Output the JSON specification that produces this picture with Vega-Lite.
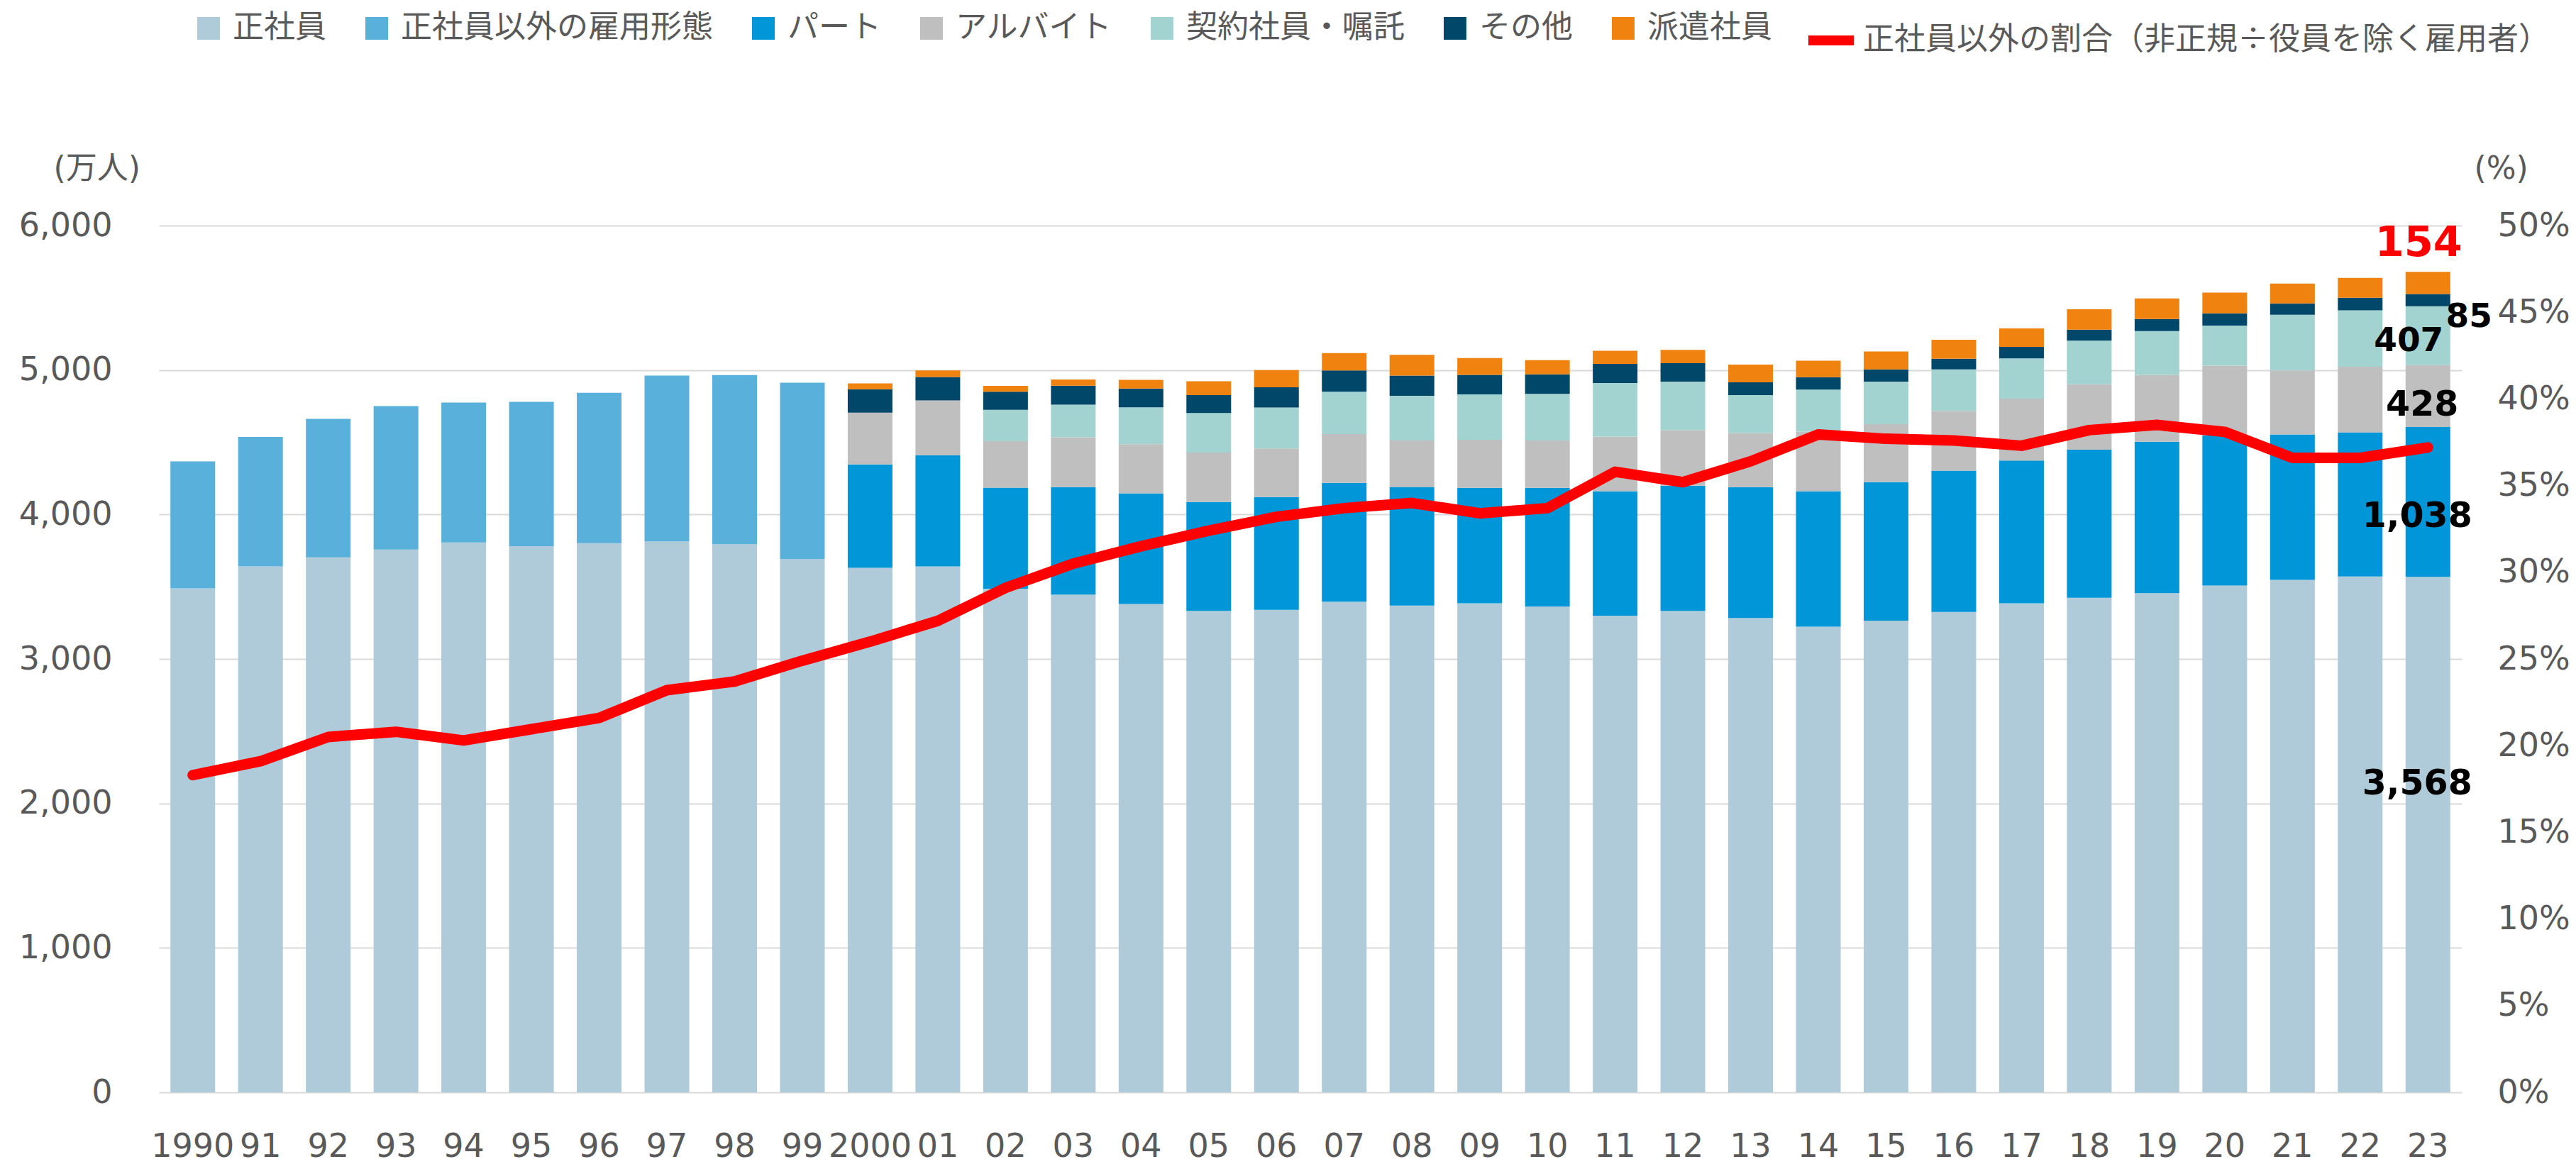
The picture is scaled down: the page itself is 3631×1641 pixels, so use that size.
{
  "$schema": "https://vega.github.io/schema/vega-lite/v6.json",
  "autosize": {"type": "none"},
  "padding": {"left": 224, "top": 318, "right": 161, "bottom": 101},
  "width": 3246,
  "height": 1222,
  "background": "white",
  "config": {
    "font": "DejaVu Sans, Noto Sans CJK JP",
    "view": {"stroke": null},
    "axis": {"labelFont": "DejaVu Sans, Noto Sans CJK JP", "titleFont": "DejaVu Sans, Noto Sans CJK JP", "labelColor": "#595959", "titleColor": "#595959", "labelFontSize": 46, "titleFontSize": 44, "titleFontWeight": "normal"},
    "legend": {"labelFont": "Noto Sans CJK JP", "labelColor": "#595959", "labelFontSize": 44, "labelLimit": 3000}
  },
  "datasets": {
    "d": [
      {"yl":"1990","cat":"正社員","k":1,"v":3488},{"yl":"1990","cat":"正社員以外の雇用形態","k":2,"v":879},
      {"yl":"91","cat":"正社員","k":1,"v":3641},{"yl":"91","cat":"正社員以外の雇用形態","k":2,"v":896},
      {"yl":"92","cat":"正社員","k":1,"v":3703},{"yl":"92","cat":"正社員以外の雇用形態","k":2,"v":959},
      {"yl":"93","cat":"正社員","k":1,"v":3757},{"yl":"93","cat":"正社員以外の雇用形態","k":2,"v":993},
      {"yl":"94","cat":"正社員","k":1,"v":3806},{"yl":"94","cat":"正社員以外の雇用形態","k":2,"v":969},
      {"yl":"95","cat":"正社員","k":1,"v":3781},{"yl":"95","cat":"正社員以外の雇用形態","k":2,"v":999},
      {"yl":"96","cat":"正社員","k":1,"v":3801},{"yl":"96","cat":"正社員以外の雇用形態","k":2,"v":1041},
      {"yl":"97","cat":"正社員","k":1,"v":3814},{"yl":"97","cat":"正社員以外の雇用形態","k":2,"v":1148},
      {"yl":"98","cat":"正社員","k":1,"v":3794},{"yl":"98","cat":"正社員以外の雇用形態","k":2,"v":1171},
      {"yl":"99","cat":"正社員","k":1,"v":3691},{"yl":"99","cat":"正社員以外の雇用形態","k":2,"v":1221},
      {"yl":"2000","cat":"正社員","k":1,"v":3631},{"yl":"2000","cat":"パート","k":3,"v":716},{"yl":"2000","cat":"アルバイト","k":4,"v":358},{"yl":"2000","cat":"その他","k":6,"v":162},{"yl":"2000","cat":"派遣社員","k":7,"v":40},
      {"yl":"01","cat":"正社員","k":1,"v":3641},{"yl":"01","cat":"パート","k":3,"v":768},{"yl":"01","cat":"アルバイト","k":4,"v":381},{"yl":"01","cat":"その他","k":6,"v":162},{"yl":"01","cat":"派遣社員","k":7,"v":45},
      {"yl":"02","cat":"正社員","k":1,"v":3486},{"yl":"02","cat":"パート","k":3,"v":700},{"yl":"02","cat":"アルバイト","k":4,"v":321},{"yl":"02","cat":"契約社員・嘱託","k":5,"v":218},{"yl":"02","cat":"その他","k":6,"v":125},{"yl":"02","cat":"派遣社員","k":7,"v":40},
      {"yl":"03","cat":"正社員","k":1,"v":3446},{"yl":"03","cat":"パート","k":3,"v":743},{"yl":"03","cat":"アルバイト","k":4,"v":345},{"yl":"03","cat":"契約社員・嘱託","k":5,"v":226},{"yl":"03","cat":"その他","k":6,"v":132},{"yl":"03","cat":"派遣社員","k":7,"v":43},
      {"yl":"04","cat":"正社員","k":1,"v":3380},{"yl":"04","cat":"パート","k":3,"v":766},{"yl":"04","cat":"アルバイト","k":4,"v":341},{"yl":"04","cat":"契約社員・嘱託","k":5,"v":255},{"yl":"04","cat":"その他","k":6,"v":130},{"yl":"04","cat":"派遣社員","k":7,"v":60},
      {"yl":"05","cat":"正社員","k":1,"v":3333},{"yl":"05","cat":"パート","k":3,"v":753},{"yl":"05","cat":"アルバイト","k":4,"v":343},{"yl":"05","cat":"契約社員・嘱託","k":5,"v":273},{"yl":"05","cat":"その他","k":6,"v":125},{"yl":"05","cat":"派遣社員","k":7,"v":95},
      {"yl":"06","cat":"正社員","k":1,"v":3340},{"yl":"06","cat":"パート","k":3,"v":781},{"yl":"06","cat":"アルバイト","k":4,"v":336},{"yl":"06","cat":"契約社員・嘱託","k":5,"v":283},{"yl":"06","cat":"その他","k":6,"v":140},{"yl":"06","cat":"派遣社員","k":7,"v":120},
      {"yl":"07","cat":"正社員","k":1,"v":3396},{"yl":"07","cat":"パート","k":3,"v":823},{"yl":"07","cat":"アルバイト","k":4,"v":338},{"yl":"07","cat":"契約社員・嘱託","k":5,"v":293},{"yl":"07","cat":"その他","k":6,"v":147},{"yl":"07","cat":"派遣社員","k":7,"v":121},
      {"yl":"08","cat":"正社員","k":1,"v":3370},{"yl":"08","cat":"パート","k":3,"v":821},{"yl":"08","cat":"アルバイト","k":4,"v":321},{"yl":"08","cat":"契約社員・嘱託","k":5,"v":310},{"yl":"08","cat":"その他","k":6,"v":140},{"yl":"08","cat":"派遣社員","k":7,"v":143},
      {"yl":"09","cat":"正社員","k":1,"v":3385},{"yl":"09","cat":"パート","k":3,"v":799},{"yl":"09","cat":"アルバイト","k":4,"v":333},{"yl":"09","cat":"契約社員・嘱託","k":5,"v":315},{"yl":"09","cat":"その他","k":6,"v":135},{"yl":"09","cat":"派遣社員","k":7,"v":116},
      {"yl":"10","cat":"正社員","k":1,"v":3363},{"yl":"10","cat":"パート","k":3,"v":821},{"yl":"10","cat":"アルバイト","k":4,"v":328},{"yl":"10","cat":"契約社員・嘱託","k":5,"v":323},{"yl":"10","cat":"その他","k":6,"v":135},{"yl":"10","cat":"派遣社員","k":7,"v":98},
      {"yl":"11","cat":"正社員","k":1,"v":3300},{"yl":"11","cat":"パート","k":3,"v":861},{"yl":"11","cat":"アルバイト","k":4,"v":378},{"yl":"11","cat":"契約社員・嘱託","k":5,"v":371},{"yl":"11","cat":"その他","k":6,"v":133},{"yl":"11","cat":"派遣社員","k":7,"v":90},
      {"yl":"12","cat":"正社員","k":1,"v":3333},{"yl":"12","cat":"パート","k":3,"v":866},{"yl":"12","cat":"アルバイト","k":4,"v":385},{"yl":"12","cat":"契約社員・嘱託","k":5,"v":336},{"yl":"12","cat":"その他","k":6,"v":128},{"yl":"12","cat":"派遣社員","k":7,"v":92},
      {"yl":"13","cat":"正社員","k":1,"v":3283},{"yl":"13","cat":"パート","k":3,"v":906},{"yl":"13","cat":"アルバイト","k":4,"v":375},{"yl":"13","cat":"契約社員・嘱託","k":5,"v":263},{"yl":"13","cat":"その他","k":6,"v":88},{"yl":"13","cat":"派遣社員","k":7,"v":123},
      {"yl":"14","cat":"正社員","k":1,"v":3223},{"yl":"14","cat":"パート","k":3,"v":938},{"yl":"14","cat":"アルバイト","k":4,"v":413},{"yl":"14","cat":"契約社員・嘱託","k":5,"v":291},{"yl":"14","cat":"その他","k":6,"v":85},{"yl":"14","cat":"派遣社員","k":7,"v":115},
      {"yl":"15","cat":"正社員","k":1,"v":3265},{"yl":"15","cat":"パート","k":3,"v":959},{"yl":"15","cat":"アルバイト","k":4,"v":401},{"yl":"15","cat":"契約社員・嘱託","k":5,"v":295},{"yl":"15","cat":"その他","k":6,"v":85},{"yl":"15","cat":"派遣社員","k":7,"v":123},
      {"yl":"16","cat":"正社員","k":1,"v":3325},{"yl":"16","cat":"パート","k":3,"v":979},{"yl":"16","cat":"アルバイト","k":4,"v":413},{"yl":"16","cat":"契約社員・嘱託","k":5,"v":288},{"yl":"16","cat":"その他","k":6,"v":73},{"yl":"16","cat":"派遣社員","k":7,"v":132},
      {"yl":"17","cat":"正社員","k":1,"v":3385},{"yl":"17","cat":"パート","k":3,"v":989},{"yl":"17","cat":"アルバイト","k":4,"v":428},{"yl":"17","cat":"契約社員・嘱託","k":5,"v":278},{"yl":"17","cat":"その他","k":6,"v":80},{"yl":"17","cat":"派遣社員","k":7,"v":128},
      {"yl":"18","cat":"正社員","k":1,"v":3423},{"yl":"18","cat":"パート","k":3,"v":1026},{"yl":"18","cat":"アルバイト","k":4,"v":453},{"yl":"18","cat":"契約社員・嘱託","k":5,"v":301},{"yl":"18","cat":"その他","k":6,"v":77},{"yl":"18","cat":"派遣社員","k":7,"v":141},
      {"yl":"19","cat":"正社員","k":1,"v":3456},{"yl":"19","cat":"パート","k":3,"v":1048},{"yl":"19","cat":"アルバイト","k":4,"v":463},{"yl":"19","cat":"契約社員・嘱託","k":5,"v":303},{"yl":"19","cat":"その他","k":6,"v":83},{"yl":"19","cat":"派遣社員","k":7,"v":143},
      {"yl":"20","cat":"正社員","k":1,"v":3508},{"yl":"20","cat":"パート","k":3,"v":1040},{"yl":"20","cat":"アルバイト","k":4,"v":482},{"yl":"20","cat":"契約社員・嘱託","k":5,"v":278},{"yl":"20","cat":"その他","k":6,"v":85},{"yl":"20","cat":"派遣社員","k":7,"v":143},
      {"yl":"21","cat":"正社員","k":1,"v":3548},{"yl":"21","cat":"パート","k":3,"v":1006},{"yl":"21","cat":"アルバイト","k":4,"v":443},{"yl":"21","cat":"契約社員・嘱託","k":5,"v":386},{"yl":"21","cat":"その他","k":6,"v":78},{"yl":"21","cat":"派遣社員","k":7,"v":137},
      {"yl":"22","cat":"正社員","k":1,"v":3571},{"yl":"22","cat":"パート","k":3,"v":998},{"yl":"22","cat":"アルバイト","k":4,"v":454},{"yl":"22","cat":"契約社員・嘱託","k":5,"v":390},{"yl":"22","cat":"その他","k":6,"v":87},{"yl":"22","cat":"派遣社員","k":7,"v":138},
      {"yl":"23","cat":"正社員","k":1,"v":3568},{"yl":"23","cat":"パート","k":3,"v":1038},{"yl":"23","cat":"アルバイト","k":4,"v":428},{"yl":"23","cat":"契約社員・嘱託","k":5,"v":407},{"yl":"23","cat":"その他","k":6,"v":85},{"yl":"23","cat":"派遣社員","k":7,"v":154}
    ],
    "r": [
      {"yl":"1990","p":18.3},{"yl":"91","p":19.1},{"yl":"92","p":20.5},{"yl":"93","p":20.8},{"yl":"94","p":20.3},
      {"yl":"95","p":20.95},{"yl":"96","p":21.6},{"yl":"97","p":23.2},{"yl":"98","p":23.7},{"yl":"99","p":24.9},
      {"yl":"2000","p":26.0},{"yl":"01","p":27.2},{"yl":"02","p":29.1},{"yl":"03","p":30.5},{"yl":"04","p":31.5},
      {"yl":"05","p":32.4},{"yl":"06","p":33.2},{"yl":"07","p":33.7},{"yl":"08","p":34.0},{"yl":"09","p":33.4},
      {"yl":"10","p":33.7},{"yl":"11","p":35.8},{"yl":"12","p":35.2},{"yl":"13","p":36.4},{"yl":"14","p":37.95},
      {"yl":"15","p":37.7},{"yl":"16","p":37.6},{"yl":"17","p":37.3},{"yl":"18","p":38.2},{"yl":"19","p":38.5},
      {"yl":"20","p":38.1},{"yl":"21","p":36.6},{"yl":"22","p":36.6},{"yl":"23","p":37.2}
    ]
  },
  "encoding": {
    "x": {
      "field": "yl", "type": "ordinal", "sort": null,
      "scale": {
        "domain": ["1990","91","92","93","94","95","96","97","98","99","2000","01","02","03","04","05","06","07","08","09","10","11","12","13","14","15","16","17","18","19","20","21","22","23"],
        "paddingInner": 0.34, "paddingOuter": 0.17
      },
      "axis": {"title": null, "labelAngle": 0, "domain": false, "ticks": false, "tickSize": 0, "labelPadding": 54, "labelFontSize": 46}
    }
  },
  "layer": [
    {
      "data": {"name": "d"},
      "mark": {"type": "bar"},
      "encoding": {
        "y": {
          "field": "v", "type": "quantitative", "stack": "zero",
          "scale": {"domain": [0, 6000], "nice": false},
          "axis": {
            "orient": "left", "values": [0,1000,2000,3000,4000,5000,6000], "labelExpr": "format(datum.value, ',')",
            "grid": true, "gridColor": "#D9D9D9", "gridWidth": 2, "domain": false, "ticks": false, "tickSize": 0,
            "labelPadding": 66, "title": "(万人)", "titleAngle": 0, "titleAlign": "left", "titleBaseline": "middle",
            "titleX": -149, "titleY": -80
          }
        },
        "fill": {
          "field": "cat", "type": "nominal",
          "scale": {
            "domain": ["正社員","正社員以外の雇用形態","パート","アルバイト","契約社員・嘱託","その他","派遣社員"],
            "range": ["#AFCBD9","#59B0DA","#0096D8","#BFBFBF","#A3D3D0","#00476A","#F0820F"]
          },
          "legend": {
            "orient": "none", "legendX": 48, "legendY": -300, "direction": "horizontal", "title": null,
            "symbolType": "square", "symbolSize": 1024, "symbolStrokeWidth": 0, "labelOffset": 12, "columnPadding": 49
          }
        },
        "order": {"field": "k", "type": "quantitative"}
      }
    },
    {
      "data": {"name": "r"},
      "mark": {"type": "line", "strokeWidth": 15, "strokeCap": "round", "strokeJoin": "round"},
      "encoding": {
        "y": {
          "field": "p", "type": "quantitative",
          "scale": {"domain": [0, 50], "nice": false},
          "axis": {
            "orient": "right", "values": [0,5,10,15,20,25,30,35,40,45,50], "labelExpr": "datum.value + '%'",
            "grid": false, "domain": false, "ticks": false, "tickSize": 0, "labelPadding": 50,
            "title": "(%)", "titleAngle": 0, "titleAlign": "left", "titleBaseline": "middle", "titleX": 17, "titleY": -80
          }
        },
        "stroke": {
          "datum": "正社員以外の割合（非正規÷役員を除く雇用者）",
          "scale": {"range": ["#FF0000"]},
          "legend": {
            "orient": "none", "legendX": 2318, "legendY": -300, "direction": "horizontal", "title": null,
            "symbolType": "stroke", "symbolSize": 4096, "symbolStrokeWidth": 14, "labelOffset": 6
          }
        }
      }
    },
    {
      "data": {"name": "d"},
      "transform": [
        {"filter": "datum.yl == '23'"},
        {"window": [{"op": "sum", "field": "v", "as": "cum"}], "sort": [{"field": "k", "order": "ascending"}]},
        {"filter": "datum.k == 1"}
      ],
      "mark": {"type": "text", "fontWeight": "bold", "fontSize": 49, "color": "#000000", "dx": -15, "dy": 292, "baseline": "middle", "font": "DejaVu Sans"},
      "encoding": {
        "y": {"field": "cum", "type": "quantitative", "scale": {"domain": [0, 6000], "nice": false}, "axis": null},
        "text": {"field": "v", "type": "quantitative", "format": ","}
      }
    },
    {
      "data": {"name": "d"},
      "transform": [
        {"filter": "datum.yl == '23'"},
        {"window": [{"op": "sum", "field": "v", "as": "cum"}], "sort": [{"field": "k", "order": "ascending"}]},
        {"filter": "datum.k == 3"}
      ],
      "mark": {"type": "text", "fontWeight": "bold", "fontSize": 49, "color": "#000000", "dx": -15, "dy": 126, "baseline": "middle", "font": "DejaVu Sans"},
      "encoding": {
        "y": {"field": "cum", "type": "quantitative", "scale": {"domain": [0, 6000], "nice": false}, "axis": null},
        "text": {"field": "v", "type": "quantitative", "format": ","}
      }
    },
    {
      "data": {"name": "d"},
      "transform": [
        {"filter": "datum.yl == '23'"},
        {"window": [{"op": "sum", "field": "v", "as": "cum"}], "sort": [{"field": "k", "order": "ascending"}]},
        {"filter": "datum.k == 4"}
      ],
      "mark": {"type": "text", "fontWeight": "bold", "fontSize": 49, "color": "#000000", "dx": -8, "dy": 56, "baseline": "middle", "font": "DejaVu Sans"},
      "encoding": {
        "y": {"field": "cum", "type": "quantitative", "scale": {"domain": [0, 6000], "nice": false}, "axis": null},
        "text": {"field": "v", "type": "quantitative", "format": ","}
      }
    },
    {
      "data": {"name": "d"},
      "transform": [
        {"filter": "datum.yl == '23'"},
        {"window": [{"op": "sum", "field": "v", "as": "cum"}], "sort": [{"field": "k", "order": "ascending"}]},
        {"filter": "datum.k == 5"}
      ],
      "mark": {"type": "text", "fontWeight": "bold", "fontSize": 47, "color": "#000000", "dx": -27, "dy": 49, "baseline": "middle", "font": "DejaVu Sans"},
      "encoding": {
        "y": {"field": "cum", "type": "quantitative", "scale": {"domain": [0, 6000], "nice": false}, "axis": null},
        "text": {"field": "v", "type": "quantitative", "format": ","}
      }
    },
    {
      "data": {"name": "d"},
      "transform": [
        {"filter": "datum.yl == '23'"},
        {"window": [{"op": "sum", "field": "v", "as": "cum"}], "sort": [{"field": "k", "order": "ascending"}]},
        {"filter": "datum.k == 6"}
      ],
      "mark": {"type": "text", "fontWeight": "bold", "fontSize": 47, "color": "#000000", "dx": 58, "dy": 32, "baseline": "middle", "font": "DejaVu Sans"},
      "encoding": {
        "y": {"field": "cum", "type": "quantitative", "scale": {"domain": [0, 6000], "nice": false}, "axis": null},
        "text": {"field": "v", "type": "quantitative", "format": ","}
      }
    },
    {
      "data": {"name": "d"},
      "transform": [
        {"filter": "datum.yl == '23'"},
        {"window": [{"op": "sum", "field": "v", "as": "cum"}], "sort": [{"field": "k", "order": "ascending"}]},
        {"filter": "datum.k == 7"}
      ],
      "mark": {"type": "text", "fontWeight": "bold", "fontSize": 59, "color": "#FF0000", "dx": -13, "dy": -40, "baseline": "middle", "font": "DejaVu Sans"},
      "encoding": {
        "y": {"field": "cum", "type": "quantitative", "scale": {"domain": [0, 6000], "nice": false}, "axis": null},
        "text": {"field": "v", "type": "quantitative", "format": ","}
      }
    }
  ],
  "resolve": {"scale": {"y": "independent", "fill": "independent", "stroke": "independent"}}
}
